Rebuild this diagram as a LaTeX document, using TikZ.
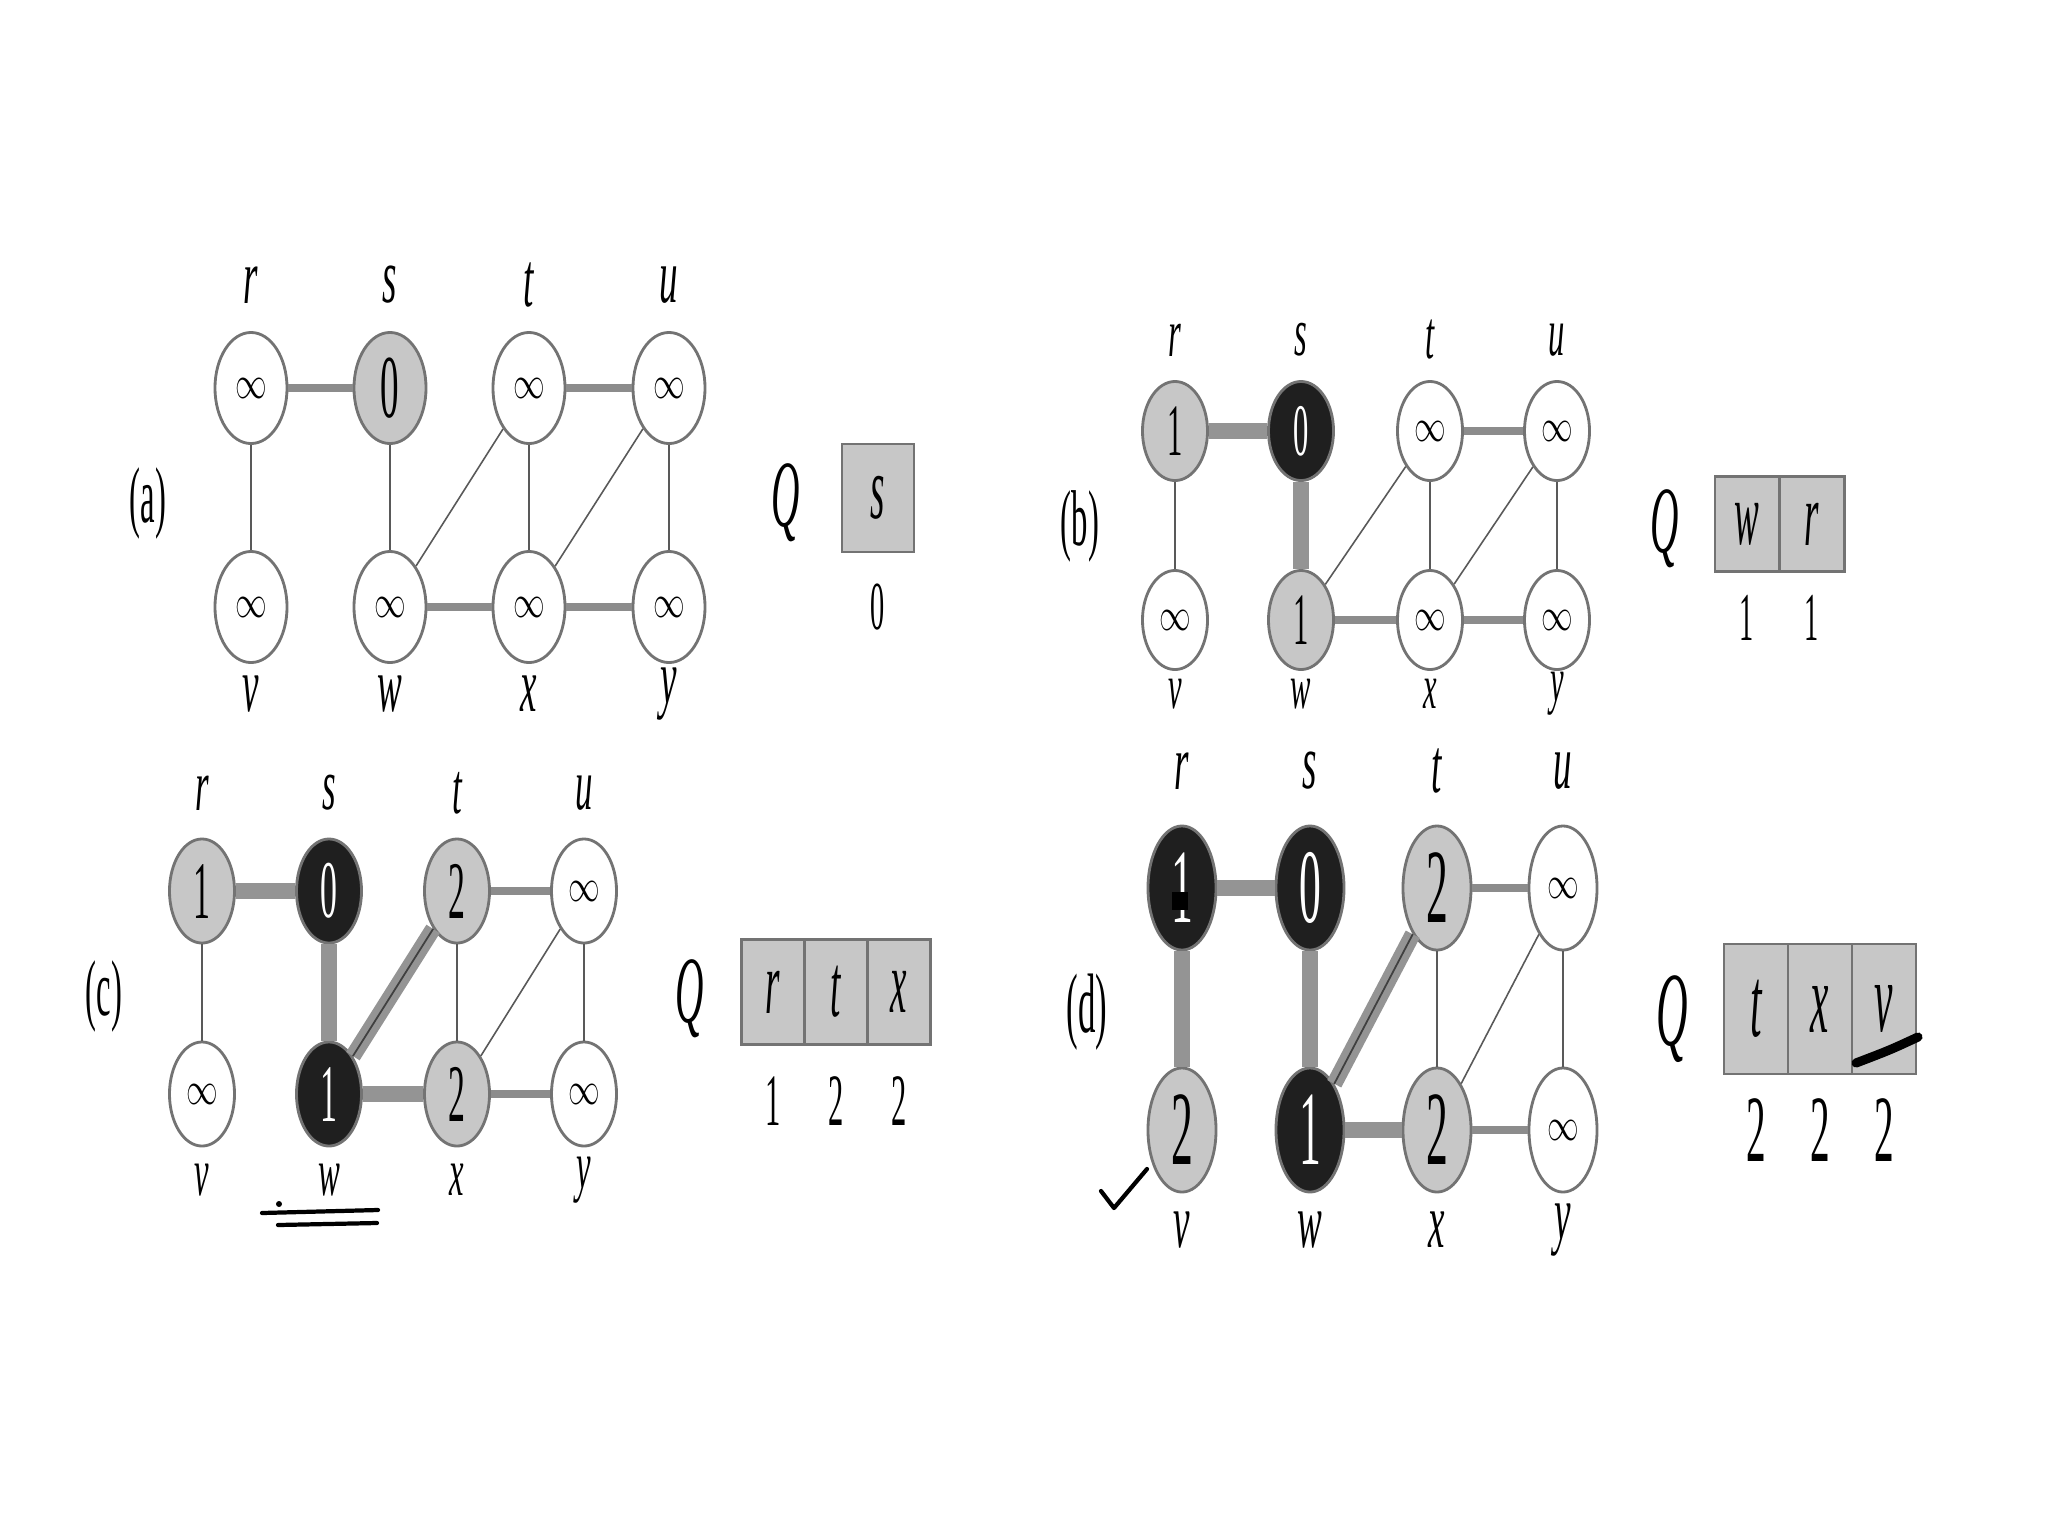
\documentclass[tikz,border=0pt]{standalone}
\usepackage{fontspec}
\setmainfont{Liberation Serif}
\usepackage{graphicx}
\usetikzlibrary{shapes.geometric}
\newcommand\tx[2]{\scalebox{0.62}[1.5]{\fontsize{#1}{#1}\selectfont #2}}
\newcommand\ti[2]{\scalebox{0.62}[1.5]{\fontsize{#1}{#1}\selectfont\itshape #2}}
\newcommand\tl[2]{\scalebox{0.62}[1.3]{\fontsize{#1}{#1}\selectfont\itshape #2}}
\newcommand\infsym{\scalebox{0.75}[1.1]{\fontsize{12pt}{12pt}\selectfont$\infty$}}
\tikzset{
 vtx/.style={ellipse, draw=black!55, line width=0.8pt, inner sep=0pt},
 wv/.style={vtx, fill=white},
 gv/.style={vtx, fill=black!22},
 bv/.style={vtx, fill=black!88, text=white},
 ln/.style={draw=black!65, line width=0.45pt},
 hb/.style={draw=black!45, line width=2.2pt},
 tr/.style={draw=black!42, line width=4.5pt},
 trc/.style={draw=black!75, line width=0.5pt},
 cell/.style={draw=black!55, fill=black!22, line width=0.7pt, inner sep=0pt},
 lbl/.style={inner sep=0pt},
 pen/.style={draw=black, line cap=round, line join=round},
 asz/.style={minimum width=0.72cm, minimum height=1.11cm},
 bsz/.style={minimum width=0.65cm, minimum height=0.99cm},
 csz/.style={minimum width=0.65cm, minimum height=1.04cm},
 dsz/.style={minimum width=0.68cm, minimum height=1.24cm},
}
\begin{document}
\begin{tikzpicture}[x=0.01cm, y=-0.01cm]
\useasboundingbox[fill=white] (0,0) rectangle (2048,1536);

% ================= panel (a) =================
\node[lbl] (alab) at (148,503) {\tx{15pt}{(a)}};
\node[wv,asz] (ar) at (251,388) {\infsym};
\node[gv,asz] (as) at (390,388) {\tx{17pt}{0}};
\node[wv,asz] (at) at (529,388) {\infsym};
\node[wv,asz] (au) at (669,388) {\infsym};
\node[wv,asz] (av) at (251,607) {\infsym};
\node[wv,asz] (aw) at (390,607) {\infsym};
\node[wv,asz] (ax) at (529,607) {\infsym};
\node[wv,asz] (ay) at (669,607) {\infsym};
\foreach \n/\xx/\l in {nr/251/r, ns/390/s, nt/529/t, nu/669/u}
  \node[lbl] (a\n) at (\xx,285) {\tl{17pt}{\l}};
\foreach \n/\xx/\l in {nv/251/v, nw/390/w, nx/529/x, ny/669/y}
  \node[lbl] (a\n) at (\xx,694) {\tl{17pt}{\l}};
\draw[hb] (ar) -- (as);
\draw[hb] (at) -- (au);
\draw[hb] (aw) -- (ax);
\draw[hb] (ax) -- (ay);
\draw[ln] (ar) -- (av);
\draw[ln] (as) -- (aw);
\draw[ln] (aw) -- (at);
\draw[ln] (at) -- (ax);
\draw[ln] (ax) -- (au);
\draw[ln] (au) -- (ay);
\node[lbl] (aQ) at (786,503) {\ti{18pt}{Q}};
\node[cell, minimum width=0.72cm, minimum height=1.08cm] (aq1) at (878,498) {\ti{17pt}{s}};
\node[lbl] (ad1) at (878,607) {\tx{13pt}{0}};

% ================= panel (b) =================
\node[lbl] (blab) at (1080,526) {\tx{15pt}{(b)}};
\node[gv,bsz] (br) at (1175,431) {\tx{14pt}{1}};
\node[bv,bsz] (bs) at (1301,431) {\tx{14pt}{0}};
\node[wv,bsz] (bt) at (1430,431) {\infsym};
\node[wv,bsz] (bu) at (1557,431) {\infsym};
\node[wv,bsz] (bv) at (1175,620) {\infsym};
\node[gv,bsz] (bw) at (1301,620) {\tx{14pt}{1}};
\node[wv,bsz] (bx) at (1430,620) {\infsym};
\node[wv,bsz] (by) at (1557,620) {\infsym};
\foreach \n/\xx/\l in {nr/1175/r, ns/1301/s, nt/1430/t, nu/1557/u}
  \node[lbl] (b\n) at (\xx,340) {\tl{15pt}{\l}};
\foreach \n/\xx/\l in {nv/1175/v, nw/1301/w, nx/1430/x, ny/1557/y}
  \node[lbl] (b\n) at (\xx,694) {\tl{14pt}{\l}};
\draw[tr] (br) -- (bs);
\draw[tr] (bs) -- (bw);
\draw[hb] (bt) -- (bu);
\draw[hb] (bw) -- (bx);
\draw[hb] (bx) -- (by);
\draw[ln] (br) -- (bv);
\draw[ln] (bw) -- (bt);
\draw[ln] (bt) -- (bx);
\draw[ln] (bx) -- (bu);
\draw[ln] (bu) -- (by);
\node[lbl] (bQ) at (1665,529) {\ti{18pt}{Q}};
\node[cell, minimum width=0.645cm, minimum height=0.95cm] (bq1) at (1747,524) {\ti{17pt}{w}};
\node[cell, minimum width=0.645cm, minimum height=0.95cm] (bq2) at (1812,524) {\ti{17pt}{r}};
\node[lbl] (bd1) at (1747,618) {\tx{13pt}{1}};
\node[lbl] (bd2) at (1812,618) {\tx{13pt}{1}};

% ================= panel (c) =================
\node[lbl] (clab) at (104,996) {\tx{15pt}{(c)}};
\node[gv,csz] (cr) at (202,891) {\tx{15.5pt}{1}};
\node[bv,csz] (cs) at (329,891) {\tx{15.5pt}{0}};
\node[gv,csz] (ct) at (457,891) {\tx{15.5pt}{2}};
\node[wv,csz] (cu) at (584,891) {\infsym};
\node[wv,csz] (cv) at (202,1094) {\infsym};
\node[bv,csz] (cw) at (329,1094) {\tx{15.5pt}{1}};
\node[gv,csz] (cx) at (457,1094) {\tx{15.5pt}{2}};
\node[wv,csz] (cy) at (584,1094) {\infsym};
\foreach \n/\xx/\l in {nr/202/r, ns/329/s, nt/457/t, nu/584/u}
  \node[lbl] (c\n) at (\xx,793) {\tl{16pt}{\l}};
\foreach \n/\xx/\l in {nv/202/v, nw/329/w, nx/457/x, ny/584/y}
  \node[lbl] (c\n) at (\xx,1180) {\tl{15pt}{\l}};
\draw[tr] (cr) -- (cs);
\draw[tr] (cs) -- (cw);
\draw[tr] (cw) -- (ct);
\draw[trc] (cw) -- (ct);
\draw[tr] (cw) -- (cx);
\draw[hb] (ct) -- (cu);
\draw[hb] (cx) -- (cy);
\draw[ln] (cr) -- (cv);
\draw[ln] (ct) -- (cx);
\draw[ln] (cx) -- (cu);
\draw[ln] (cu) -- (cy);
\node[lbl] (cQ) at (690,999) {\ti{18pt}{Q}};
\node[cell, minimum width=0.633cm, minimum height=1.05cm] (cq1) at (773,992) {\ti{17pt}{r}};
\node[cell, minimum width=0.633cm, minimum height=1.05cm] (cq2) at (836,992) {\ti{17pt}{t}};
\node[cell, minimum width=0.633cm, minimum height=1.05cm] (cq3) at (899,992) {\ti{17pt}{x}};
\node[lbl] (cd1) at (773,1101) {\tx{14pt}{1}};
\node[lbl] (cd2) at (836,1101) {\tx{14pt}{2}};
\node[lbl] (cd3) at (899,1101) {\tx{14pt}{2}};
% hand-drawn underline
\coordinate (cu1a) at (262,1213); \coordinate (cu1b) at (378,1210);
\coordinate (cu2a) at (278,1225); \coordinate (cu2b) at (377,1223);
\coordinate (cdot) at (279,1204);
\draw[pen, line width=1.2pt] (cu1a) -- (cu1b);
\draw[pen, line width=1.2pt] (cu2a) -- (cu2b);
\fill (cdot) circle (3);

% ================= panel (d) =================
\node[lbl] (dlab) at (1087,1012) {\tx{16pt}{(d)}};
\node[bv,dsz] (dr) at (1182,888) {\tx{20pt}{1}};
\node[bv,dsz] (ds) at (1310,888) {\tx{20pt}{0}};
\node[gv,dsz] (dt) at (1437,888) {\tx{20pt}{2}};
\node[wv,dsz] (du) at (1563,888) {\infsym};
\node[gv,dsz] (dv) at (1182,1130) {\tx{20pt}{2}};
\node[bv,dsz] (dw) at (1310,1130) {\tx{20pt}{1}};
\node[gv,dsz] (dx) at (1437,1130) {\tx{20pt}{2}};
\node[wv,dsz] (dy) at (1563,1130) {\infsym};
\foreach \n/\xx/\l in {nr/1182/r, ns/1310/s, nt/1437/t, nu/1563/u}
  \node[lbl] (d\n) at (\xx,771) {\tl{17pt}{\l}};
\foreach \n/\xx/\l in {nv/1182/v, nw/1310/w, nx/1437/x, ny/1563/y}
  \node[lbl] (d\n) at (\xx,1230) {\tl{17pt}{\l}};
\draw[tr] (dr) -- (ds);
\draw[tr] (ds) -- (dw);
\draw[tr] (dw) -- (dt);
\draw[trc] (dw) -- (dt);
\draw[tr] (dw) -- (dx);
\draw[tr] (dr) -- (dv);
\draw[hb] (dt) -- (du);
\draw[hb] (dx) -- (dy);
\draw[ln] (dt) -- (dx);
\draw[ln] (dx) -- (du);
\draw[ln] (du) -- (dy);
\node[lbl] (dQ) at (1672,1019) {\ti{20pt}{Q}};
\node[cell, minimum width=0.64cm, minimum height=1.30cm] (dq1) at (1756,1009) {\ti{19pt}{t}};
\node[cell, minimum width=0.64cm, minimum height=1.30cm] (dq2) at (1820,1009) {\ti{19pt}{x}};
\node[cell, minimum width=0.64cm, minimum height=1.30cm] (dq3) at (1884,1009) {\ti{19pt}{v}};
\node[lbl] (dd1) at (1756,1130) {\tx{18pt}{2}};
\node[lbl] (dd2) at (1820,1130) {\tx{18pt}{2}};
\node[lbl] (dd3) at (1884,1130) {\tx{18pt}{2}};
% hand marks
\fill[black] (1172,892) rectangle (1188,910);
\coordinate (dk1) at (1101,1191); \coordinate (dk2) at (1114,1208); \coordinate (dk3) at (1147,1169);
\draw[pen, line width=1.2pt] (dk1) -- (dk2) -- (dk3);
\coordinate (ds1) at (1856,1063); \coordinate (ds2) at (1890,1050); \coordinate (ds3) at (1918,1037);
\draw[pen, line width=2.6pt] (ds1) .. controls (ds2) .. (ds3);
\end{tikzpicture}
\end{document}
